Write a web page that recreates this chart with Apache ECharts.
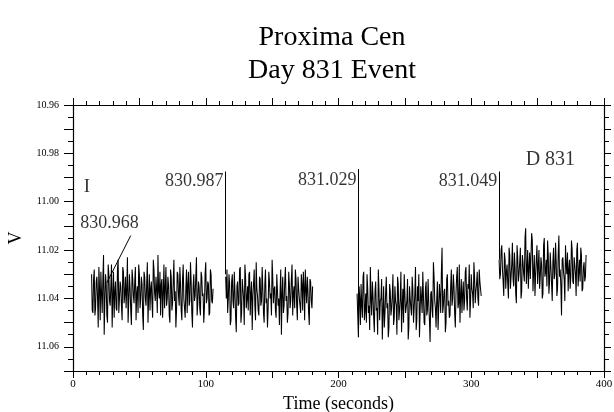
<!DOCTYPE html>
<html>
<head>
<meta charset="utf-8">
<script src="https://cdn.jsdelivr.net/npm/echarts@6/dist/echarts.min.js"></script>
<style>
  html, body { margin: 0; padding: 0; background: #fff; }
  #fig_proxima { width: 614px; height: 412px; }
</style>
</head>
<body>
<div id="fig_proxima"></div>
<script>
// V magnitude: *_v at whole seconds, *_h half a second later
var sample_step = 1;

var seg1_t0 = 14;
var seg1_v = [
    11.030, 11.046, 11.028, 11.044, 11.031, 11.052, 11.036, 11.029, 11.046, 11.022,
    11.041, 11.034, 11.050, 11.030, 11.043, 11.026, 11.039, 11.048, 11.033, 11.045,
    11.024, 11.040, 11.035, 11.049, 11.029, 11.038, 11.044, 11.023, 11.041, 11.036,
    11.051, 11.032, 11.042, 11.027, 11.038, 11.046, 11.030, 11.040, 11.034, 11.053,
    11.031, 11.043, 11.025, 11.039, 11.045, 11.033, 11.048, 11.028, 11.041, 11.036,
    11.022, 11.040, 11.047, 11.032, 11.038, 11.044, 11.027, 11.040, 11.035, 11.050,
    11.031, 11.042, 11.024, 11.037, 11.045, 11.030, 11.043, 11.034, 11.049, 11.026,
    11.040, 11.036, 11.046, 11.029, 11.041, 11.033, 11.052, 11.030, 11.039, 11.023,
    11.042, 11.035, 11.047, 11.031, 11.038, 11.044, 11.025, 11.040, 11.034, 11.046,
    11.030, 11.042
];
var seg1_h = [
    11.045, 11.032, 11.047, 11.033, 11.040, 11.027, 11.049, 11.038, 11.032, 11.055,
    11.030, 11.047, 11.026, 11.041, 11.035, 11.052, 11.029, 11.037, 11.044, 11.028,
    11.046, 11.033, 11.043, 11.027, 11.042, 11.031, 11.036, 11.050, 11.030, 11.045,
    11.028, 11.039, 11.033, 11.049, 11.035, 11.026, 11.044, 11.031, 11.047, 11.029,
    11.040, 11.034, 11.050, 11.030, 11.036, 11.042, 11.024, 11.038, 11.031, 11.046,
    11.037, 11.029, 11.034, 11.048, 11.026, 11.036, 11.043, 11.031, 11.047, 11.028,
    11.045, 11.033, 11.041, 11.052, 11.029, 11.039, 11.027, 11.045, 11.032, 11.040,
    11.048, 11.028, 11.034, 11.043, 11.025, 11.046, 11.035, 11.041, 11.031, 11.047,
    11.033, 11.044, 11.029, 11.039, 11.050, 11.030, 11.042, 11.033, 11.047, 11.028,
    11.041, 11.036
];

var seg2_t0 = 115;
var seg2_v = [
    11.031, 11.028, 11.040, 11.034, 11.049, 11.030, 11.044, 11.037, 11.054, 11.033,
    11.042, 11.027, 11.046, 11.036, 11.051, 11.031, 11.040, 11.045, 11.029, 11.038,
    11.053, 11.034, 11.043, 11.025, 11.039, 11.047, 11.032, 11.041, 11.036, 11.050,
    11.028, 11.040, 11.044, 11.033, 11.038, 11.024, 11.042, 11.035, 11.048, 11.030,
    11.040, 11.037, 11.055, 11.031, 11.043, 11.027, 11.039, 11.046, 11.034, 11.041,
    11.026, 11.038, 11.044, 11.032, 11.049, 11.036, 11.040, 11.030, 11.045, 11.035,
    11.028, 11.042, 11.037, 11.051, 11.033, 11.044
];
var seg2_h = [
    11.040, 11.046, 11.030, 11.051, 11.033, 11.041, 11.029, 11.048, 11.035, 11.043,
    11.028, 11.050, 11.032, 11.040, 11.026, 11.044, 11.035, 11.030, 11.047, 11.033,
    11.039, 11.028, 11.049, 11.036, 11.045, 11.031, 11.043, 11.027, 11.046, 11.034,
    11.042, 11.052, 11.029, 11.040, 11.047, 11.032, 11.036, 11.045, 11.030, 11.043,
    11.051, 11.028, 11.038, 11.046, 11.033, 11.041, 11.050, 11.029, 11.044, 11.032,
    11.047, 11.035, 11.028, 11.043, 11.031, 11.040, 11.046, 11.034, 11.029, 11.049,
    11.036, 11.031, 11.046, 11.032, 11.041, 11.035
];

var seg3_t0 = 214;
var seg3_v = [
    11.038, 11.056, 11.040, 11.034, 11.048, 11.029, 11.045, 11.050, 11.036, 11.043,
    11.027, 11.047, 11.039, 11.054, 11.033, 11.044, 11.028, 11.049, 11.040, 11.057,
    11.035, 11.046, 11.031, 11.042, 11.052, 11.037, 11.044, 11.030, 11.048, 11.041,
    11.055, 11.034, 11.045, 11.029, 11.043, 11.050, 11.038, 11.046, 11.032, 11.052,
    11.040, 11.047, 11.036, 11.044, 11.027, 11.049, 11.041, 11.056, 11.035, 11.046,
    11.039, 11.051, 11.033, 11.045, 11.042, 11.058, 11.037, 11.048, 11.031, 11.044,
    11.040, 11.053, 11.034, 11.046, 11.019, 11.043, 11.036, 11.050, 11.030, 11.041,
    11.047, 11.028, 11.040, 11.035, 11.052, 11.031, 11.044, 11.026, 11.039, 11.046,
    11.033, 11.041, 11.027, 11.045, 11.036, 11.048, 11.030, 11.038, 11.025, 11.042,
    11.034, 11.040, 11.028, 11.036
];
var seg3_h = [
    11.047, 11.035, 11.051, 11.043, 11.031, 11.049, 11.038, 11.030, 11.046, 11.053,
    11.040, 11.033, 11.048, 11.037, 11.045, 11.055, 11.036, 11.041, 11.032, 11.046,
    11.052, 11.038, 11.044, 11.056, 11.034, 11.047, 11.039, 11.051, 11.035, 11.043,
    11.031, 11.049, 11.040, 11.054, 11.036, 11.030, 11.046, 11.041, 11.057, 11.035,
    11.044, 11.031, 11.050, 11.038, 11.053, 11.035, 11.030, 11.045, 11.040, 11.029,
    11.050, 11.036, 11.047, 11.032, 11.049, 11.038, 11.045, 11.025, 11.041, 11.052,
    11.033, 11.044, 11.039, 11.029, 11.046, 11.037, 11.054, 11.032, 11.043, 11.048,
    11.035, 11.043, 11.030, 11.046, 11.038, 11.027, 11.042, 11.050, 11.032, 11.038,
    11.045, 11.029, 11.040, 11.034, 11.026, 11.041, 11.036, 11.044, 11.031, 11.037,
    11.029, 11.043, 11.033, 11.039
];

var seg4_t0 = 321;
var seg4_v = [
    11.024, 11.030, 11.018, 11.033, 11.021, 11.036, 11.026, 11.040, 11.022, 11.031,
    11.017, 11.035, 11.027, 11.042, 11.023, 11.030, 11.019, 11.037, 11.025, 11.033,
    11.011, 11.028, 11.036, 11.021, 11.032, 11.016, 11.029, 11.039, 11.024, 11.034,
    11.020, 11.031, 11.026, 11.038, 11.015, 11.029, 11.035, 11.022, 11.033, 11.027,
    11.041, 11.019, 11.030, 11.025, 11.036, 11.014, 11.028, 11.047, 11.023, 11.032,
    11.018, 11.030, 11.037, 11.024, 11.031, 11.020, 11.034, 11.026, 11.039, 11.017,
    11.029, 11.033, 11.022, 11.036, 11.025, 11.031
];
var seg4_h = [
    11.032, 11.020, 11.028, 11.039, 11.024, 11.029, 11.034, 11.019, 11.036, 11.026,
    11.032, 11.021, 11.038, 11.018, 11.033, 11.025, 11.040, 11.022, 11.030, 11.015,
    11.034, 11.020, 11.027, 11.032, 11.013, 11.037, 11.022, 11.030, 11.018, 11.027,
    11.036, 11.023, 11.040, 11.018, 11.031, 11.024, 11.016, 11.038, 11.021, 11.034,
    11.025, 11.032, 11.017, 11.039, 11.022, 11.031, 11.035, 11.024, 11.029, 11.041,
    11.026, 11.021, 11.028, 11.036, 11.016, 11.033, 11.023, 11.030, 11.020, 11.035,
    11.024, 11.019, 11.037, 11.027, 11.033, 11.022
];

// event markers (time in s, label, line top / bottom in V)
var event_times = [114.8, 215.1, 321.0];
var event_labels = ['830.987', '831.029', '831.049'];
var event_tops = [10.9875, 10.9865, 10.9875];
var event_bottoms = [11.030, 11.056, 11.024];
var event_label_v = [10.9915, 10.991, 10.9915];

// the first event, with a leader line
var first_label = '830.968';
var first_label_pos = [5.5, 11.009];
var first_leader = [[43.5, 11.014], [25.5, 11.0335]];

var box_label = 'D 831';
var box_label_pos = [341, 10.9825];
var errbar_pos = [10.5, 10.9938];

var serif = 'Liberation Serif';

function to_points(t0, whole, half) {
    var pts = [];
    for (let i = 0; i < whole.length; i++) {
        pts.push([t0 + i * sample_step, whole[i]]);
        pts.push([t0 + (i + 0.5) * sample_step, half[i]]);
    }
    return pts;
}

function seg_series(name, t0, whole, half) {
    return {
        name: name,
        type: 'line',
        data: to_points(t0, whole, half),
        showSymbol: false,
        symbol: 'none',
        xAxisIndex: 0,
        yAxisIndex: 0,
        lineStyle: { color: '#000', width: 1.05 },
        silent: true
    };
}

var series = [
    seg_series('seg1', seg1_t0, seg1_v, seg1_h),
    seg_series('seg2', seg2_t0, seg2_v, seg2_h),
    seg_series('seg3', seg3_t0, seg3_v, seg3_h),
    seg_series('seg4', seg4_t0, seg4_v, seg4_h)
];

// vertical event lines + leader line
var marks = event_times.map(function(t, i) {
    return [{ coord: [t, event_tops[i]] }, { coord: [t, event_bottoms[i]] }];
});
marks.push([{ coord: first_leader[0] }, { coord: first_leader[1] }]);
series[0].markLine = {
    symbol: 'none',
    silent: true,
    animation: false,
    label: { show: false },
    lineStyle: { color: '#000', width: 1, type: 'solid' },
    data: marks
};

// text annotations
var label_font = { fontFamily: serif, fontSize: 18, color: '#000' };
var notes = event_times.map(function(t, i) {
    return {
        value: [t, event_label_v[i]],
        label: Object.assign({ show: true, formatter: event_labels[i], position: 'left', distance: 2 }, label_font)
    };
});
notes.push({
    value: first_label_pos,
    label: Object.assign({ show: true, formatter: first_label, position: 'right', distance: 0 }, label_font)
});
notes.push({
    value: box_label_pos,
    label: Object.assign({ show: true, formatter: box_label, position: 'right', distance: 0 }, label_font, { fontSize: 20 })
});
notes.push({
    value: errbar_pos,
    label: Object.assign({ show: true, formatter: 'I', position: 'inside' }, label_font, { fontSize: 19 })
});
series.push({
    name: 'notes',
    type: 'scatter',
    symbolSize: 0,
    silent: true,
    data: notes
});

var option = {
    animation: false,
    backgroundColor: '#fff',
    title: {
        text: 'Proxima Cen\nDay 831 Event',
        left: 327,
        textAlign: 'center',
        top: 16,
        textStyle: {
            fontFamily: serif,
            fontSize: 28,
            fontWeight: 'normal',
            lineHeight: 33,
            color: '#000'
        }
    },
    grid: {
        left: 73,
        right: 10,
        top: 105,
        bottom: 41,
        outerBoundsMode: 'none'
    },
    xAxis: [
        {
            type: 'value',
            min: 0,
            max: 400,
            interval: 50,
            position: 'bottom',
            name: 'Time (seconds)',
            nameLocation: 'middle',
            nameGap: 19,
            nameTextStyle: { fontFamily: serif, fontSize: 18, color: '#000' },
            axisLine: { show: true, lineStyle: { color: '#000', width: 1.2 } },
            axisTick: { show: true, inside: false, length: 7, lineStyle: { color: '#000' } },
            minorTick: { show: true, splitNumber: 5, length: 4, lineStyle: { color: '#000' } },
            axisLabel: {
                fontFamily: serif,
                fontSize: 11,
                color: '#000',
                margin: 8,
                formatter: function(v) { return v % 100 === 0 ? String(v) : ''; }
            },
            splitLine: { show: false }
        },
        {
            type: 'value',
            min: 0,
            max: 400,
            interval: 50,
            position: 'top',
            axisLine: { show: true, onZero: false, lineStyle: { color: '#000', width: 1.2 } },
            axisTick: { show: true, inside: false, length: 7, lineStyle: { color: '#000' } },
            minorTick: { show: true, splitNumber: 5, length: 4, lineStyle: { color: '#000' } },
            axisLabel: { show: false },
            splitLine: { show: false }
        }
    ],
    yAxis: [
        {
            type: 'value',
            inverse: true,
            min: 10.96,
            max: 11.07,
            interval: 0.01,
            position: 'left',
            name: 'V',
            nameLocation: 'middle',
            nameGap: 42,
            nameTextStyle: { fontFamily: serif, fontSize: 18, color: '#000' },
            axisLine: { show: true, onZero: false, lineStyle: { color: '#000', width: 1.2 } },
            axisTick: { show: true, inside: false, length: 9, lineStyle: { color: '#000' } },
            minorTick: { show: true, splitNumber: 2, length: 5, lineStyle: { color: '#000' } },
            axisLabel: {
                fontFamily: serif,
                fontSize: 10,
                color: '#000',
                margin: 14,
                formatter: function(v) {
                    return Math.round(v * 100) % 2 === 0 ? v.toFixed(2) : '';
                }
            },
            splitLine: { show: false }
        },
        {
            type: 'value',
            inverse: true,
            min: 10.96,
            max: 11.07,
            interval: 0.01,
            position: 'right',
            axisLine: { show: true, onZero: false, lineStyle: { color: '#000', width: 1.2 } },
            axisTick: { show: true, inside: false, length: 7, lineStyle: { color: '#000' } },
            minorTick: { show: true, splitNumber: 2, length: 5, lineStyle: { color: '#000' } },
            axisLabel: { show: false },
            splitLine: { show: false }
        }
    ],
    series: series
};

var plot_chart = echarts.init(document.getElementById('fig_proxima'), null, { renderer: 'canvas' });
plot_chart.setOption(option);
</script>
</body>
</html>
